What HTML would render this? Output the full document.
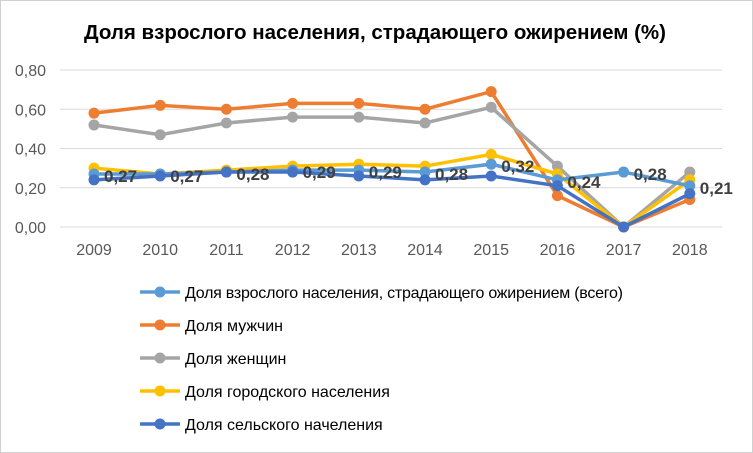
<!DOCTYPE html>
<html><head><meta charset="utf-8"><style>
body{margin:0;background:#fff;}
svg{display:block;font-family:"Liberation Sans",sans-serif;}
</style></head><body>
<svg id="c" width="753" height="453">
<rect x="0.5" y="0.5" width="752" height="452" fill="#fff" stroke="#d0d0d0"/>
<text x="375" y="39" text-anchor="middle" font-size="20.5" font-weight="bold" fill="#000">Доля взрослого населения, страдающего ожирением (%)</text>
<g id="grid"></g><g id="series"></g><g id="labels"></g><g id="legend"></g>
</svg>
<script>
const years=['2009','2010','2011','2012','2013','2014','2015','2016','2017','2018'];
const yTicks=[0,0.2,0.4,0.6,0.8];
const totalVals=[0.27,0.27,0.28,0.29,0.29,0.28,0.32,0.24,0.28,0.21];
const menVals=[0.58,0.62,0.60,0.63,0.63,0.60,0.69,0.16,0,0.14];
const womenVals=[0.52,0.47,0.53,0.56,0.56,0.53,0.61,0.31,0,0.28];
const urbanVals=[0.30,0.27,0.29,0.31,0.32,0.31,0.37,0.27,0,0.24];
const ruralVals=[0.24,0.26,0.28,0.28,0.26,0.24,0.26,0.21,0,0.17];
const seriesNames=['Доля взрослого населения, страдающего ожирением (всего)','Доля мужчин','Доля женщин','Доля городского населения','Доля сельского начеления'];
const NS='http://www.w3.org/2000/svg';
const X=i=>94+i*66.2, Y=v=>227-v/0.8*157;
function mk(t,a,p){const e=document.createElementNS(NS,t);for(const k in a)e.setAttribute(k,a[k]);p.appendChild(e);return e;}
const grid=document.getElementById('grid');
yTicks.forEach(v=>{
 const l=mk('line',{x1:60,x2:722,y1:Y(v),y2:Y(v),stroke:'#d9d9d9','stroke-width':1},grid);
 
 
 const t=mk('text',{x:46,y:Y(v)+6,'text-anchor':'end','font-size':16,fill:'#595959'},grid);
 t.textContent=v.toFixed(2).replace('.',',');
 
 
});
years.forEach((y,i)=>{
 const t=mk('text',{x:X(i),y:255,'text-anchor':'middle','font-size':16,fill:'#595959'},grid);
 t.textContent=y;
 
 
});
const all=[[totalVals,'#5b9bd5'],[menVals,'#ed7d31'],[womenVals,'#a5a5a5'],[urbanVals,'#ffc000'],[ruralVals,'#4472c4']];
const sg=document.getElementById('series');
[1,2,3,0,4].forEach(si=>{
 const [vals,col]=all[si];
 const g=mk('g',{},sg);
 
 
 const pl=mk('polyline',{points:vals.map((v,i)=>X(i)+','+Y(v)).join(' '),fill:'none',stroke:col,'stroke-width':3.5},g);
 
 
 vals.forEach((v,i)=>{
  const c=mk('circle',{cx:X(i),cy:Y(v),r:5.5,fill:col},g);
  
  
 });
});
const lg=document.getElementById('labels');
totalVals.forEach((v,i)=>{
 const t=mk('text',{x:X(i)+10,y:Y(v)+8,'font-size':17,'font-weight':'bold',fill:'#404040'},lg);
 t.textContent=v.toFixed(2).replace('.',',');
 
 
});
const leg=document.getElementById('legend');
seriesNames.forEach((n,i)=>{
 const y=292+i*33, col=all[i][1];
 const g=mk('g',{},leg);
 
 
 mk('line',{x1:140,x2:180,y1:y,y2:y,stroke:col,'stroke-width':3.5},g);
 mk('circle',{cx:160,cy:y,r:5.5,fill:col},g);
 const t=mk('text',{x:185,y:y+6,'font-size':16,fill:'#000'},g);
 if(i===0)t.setAttribute('textLength','438');
 t.textContent=n;
});
</script>
</body></html>
